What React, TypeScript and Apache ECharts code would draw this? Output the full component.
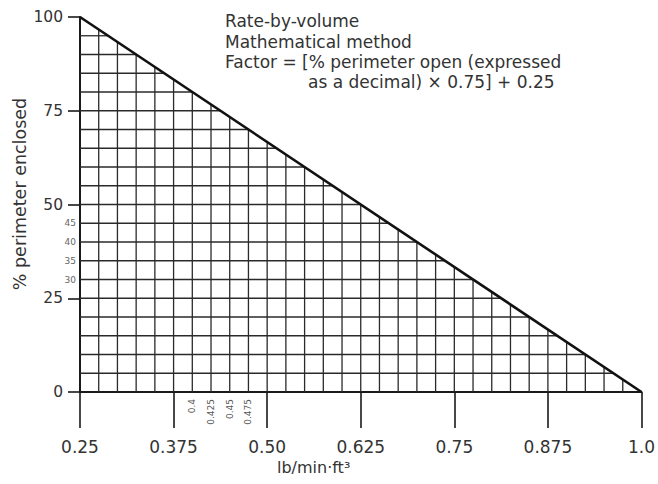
import React, { useEffect, useRef } from "react";
import * as echarts from "echarts";

// ---- data ----
const xMajorTicks = [0.25, 0.375, 0.5, 0.625, 0.75, 0.875, 1.0];
const xMajorLabels = ["0.25", "0.375", "0.50", "0.625", "0.75", "0.875", "1.0"];
const yMajorTicks = [0, 25, 50, 75, 100];
const xGridValues = [
  0.275, 0.3, 0.325, 0.35, 0.375, 0.4, 0.425, 0.45, 0.475, 0.5, 0.525, 0.55,
  0.575, 0.6, 0.625, 0.65, 0.675, 0.7, 0.725, 0.75, 0.775, 0.8, 0.825, 0.85,
  0.875, 0.9, 0.925, 0.95, 0.975,
];
const yGridValues = [5, 10, 15, 20, 25, 30, 35, 40, 45, 50, 55, 60, 65, 70, 75, 80, 85, 90, 95];
const xMinorValues = [0.4, 0.425, 0.45, 0.475];
const xMinorLabels = ["0.4", "0.425", "0.45", "0.475"];
const yMinorValues = [30, 35, 40, 45];
const yMinorLabels = ["30", "35", "40", "45"];
// diagonal: factor vs % perimeter enclosed
const diagonal: [number, number][] = [
  [0.25, 100],
  [1.0, 0],
];
const noteLines = [
  "Rate-by-volume",
  "Mathematical method",
  "Factor = [% perimeter open (expressed",
  "as a decimal) \u00d7 0.75] + 0.25",
];
const xAxisTitle = "lb/min\u00b7ft\u00b3";
const yAxisTitle = "% perimeter enclosed";

const FONT = "DejaVu Sans";
const TEXT = "#333";

// helpers from the diagonal data
const [d0, d1] = diagonal;
const diagY = (x: number) => d0[1] + ((x - d0[0]) / (d1[0] - d0[0])) * (d1[1] - d0[1]);
const diagX = (y: number) => d0[0] + ((y - d0[1]) / (d1[1] - d0[1])) * (d1[0] - d0[0]);

export default function App() {
  const ref = useRef<HTMLDivElement>(null);
  useEffect(() => {
    if (!ref.current) return;
    const chart = echarts.init(ref.current, undefined, { renderer: "svg" });
    const gridStyle = { stroke: "#2a2a2a", lineWidth: 1.3 };
    chart.setOption({
      animation: false,
      backgroundColor: "#fff",
      grid: { left: 80, right: 15, top: 17, bottom: 92, containLabel: false },
      xAxis: {
        type: "value",
        min: 0.25,
        max: 1.0,
        interval: 0.125,
        splitLine: { show: false },
        axisLine: { show: true, onZero: false, lineStyle: { color: "#1a1a1a", width: 2 } },
        axisTick: { show: true, length: 36, lineStyle: { color: "#1a1a1a", width: 1.6 } },
        axisLabel: {
          margin: 46,
          fontFamily: FONT,
          fontSize: 17,
          color: TEXT,
          showMinLabel: true,
          showMaxLabel: true,
          formatter: (v: number) => {
            const i = xMajorTicks.findIndex((t) => Math.abs(t - v) < 1e-9);
            return i >= 0 ? xMajorLabels[i] : "";
          },
        },
      },
      yAxis: {
        type: "value",
        min: 0,
        max: 100,
        interval: 25,
        splitLine: { show: false },
        axisLine: { show: true, lineStyle: { color: "#1a1a1a", width: 2 } },
        axisTick: { show: true, length: 12, lineStyle: { color: "#1a1a1a", width: 1.6 } },
        axisLabel: {
          margin: 17,
          fontFamily: FONT,
          fontSize: 15.5,
          color: TEXT,
          formatter: (v: number) => (yMajorTicks.includes(v) ? String(v) : ""),
        },
      },
      graphic: [
        ...noteLines.map((t, i) => ({
          type: "text",
          x: i === 3 ? 308 : 225,
          y: [21, 41.5, 62, 82][i],
          style: { text: t, font: `17px "${FONT}"`, fill: TEXT, align: "left", verticalAlign: "middle" },
        })),
        {
          type: "text",
          x: 277,
          y: 467,
          style: { text: xAxisTitle, font: `16px "${FONT}"`, fill: TEXT, align: "left", verticalAlign: "middle" },
        },
        {
          type: "text",
          x: 20,
          y: 194,
          rotation: Math.PI / 2,
          style: { text: yAxisTitle, font: `17.5px "${FONT}"`, fill: TEXT, align: "center", verticalAlign: "middle" },
        },
      ],
      series: [
        {
          type: "custom",
          silent: true,
          clip: false,
          data: xGridValues.map((v) => [v, 0]),
          renderItem: (_p: any, api: any) => {
            const x = api.value(0);
            const a = api.coord([x, 0]);
            const b = api.coord([x, diagY(x)]);
            return { type: "line", shape: { x1: a[0], y1: a[1], x2: b[0], y2: b[1] }, style: gridStyle };
          },
        },
        {
          type: "custom",
          silent: true,
          clip: false,
          data: yGridValues.map((v) => [d0[0], v]),
          renderItem: (_p: any, api: any) => {
            const y = api.value(1);
            const a = api.coord([d0[0], y]);
            const b = api.coord([diagX(y), y]);
            return { type: "line", shape: { x1: a[0], y1: a[1], x2: b[0], y2: b[1] }, style: gridStyle };
          },
        },
        {
          type: "custom",
          silent: true,
          clip: false,
          data: xMinorValues.map((v) => [v, 0]),
          renderItem: (p: any, api: any) => {
            const a = api.coord([api.value(0), 0]);
            return {
              type: "text",
              x: a[0],
              y: a[1] + 7,
              rotation: Math.PI / 2,
              style: {
                text: xMinorLabels[p.dataIndex],
                font: `9px "${FONT}"`,
                fill: "#555",
                align: "right",
                verticalAlign: "middle",
              },
            };
          },
        },
        {
          type: "custom",
          silent: true,
          clip: false,
          data: yMinorValues.map((v) => [d0[0], v]),
          renderItem: (p: any, api: any) => {
            const a = api.coord([d0[0], api.value(1)]);
            return {
              type: "text",
              x: a[0] - 4,
              y: a[1],
              style: {
                text: yMinorLabels[p.dataIndex],
                font: `9px "${FONT}"`,
                fill: "#666",
                align: "right",
                verticalAlign: "middle",
              },
            };
          },
        },
        {
          type: "line",
          data: diagonal,
          symbol: "none",
          silent: true,
          z: 5,
          lineStyle: { color: "#111", width: 2.6 },
        },
      ],
    });
    return () => chart.dispose();
  }, []);
  return (
    <div
      ref={ref}
      style={{ position: "fixed", left: 0, top: 0, width: 658, height: 484, background: "#fff" }}
    />
  );
}
